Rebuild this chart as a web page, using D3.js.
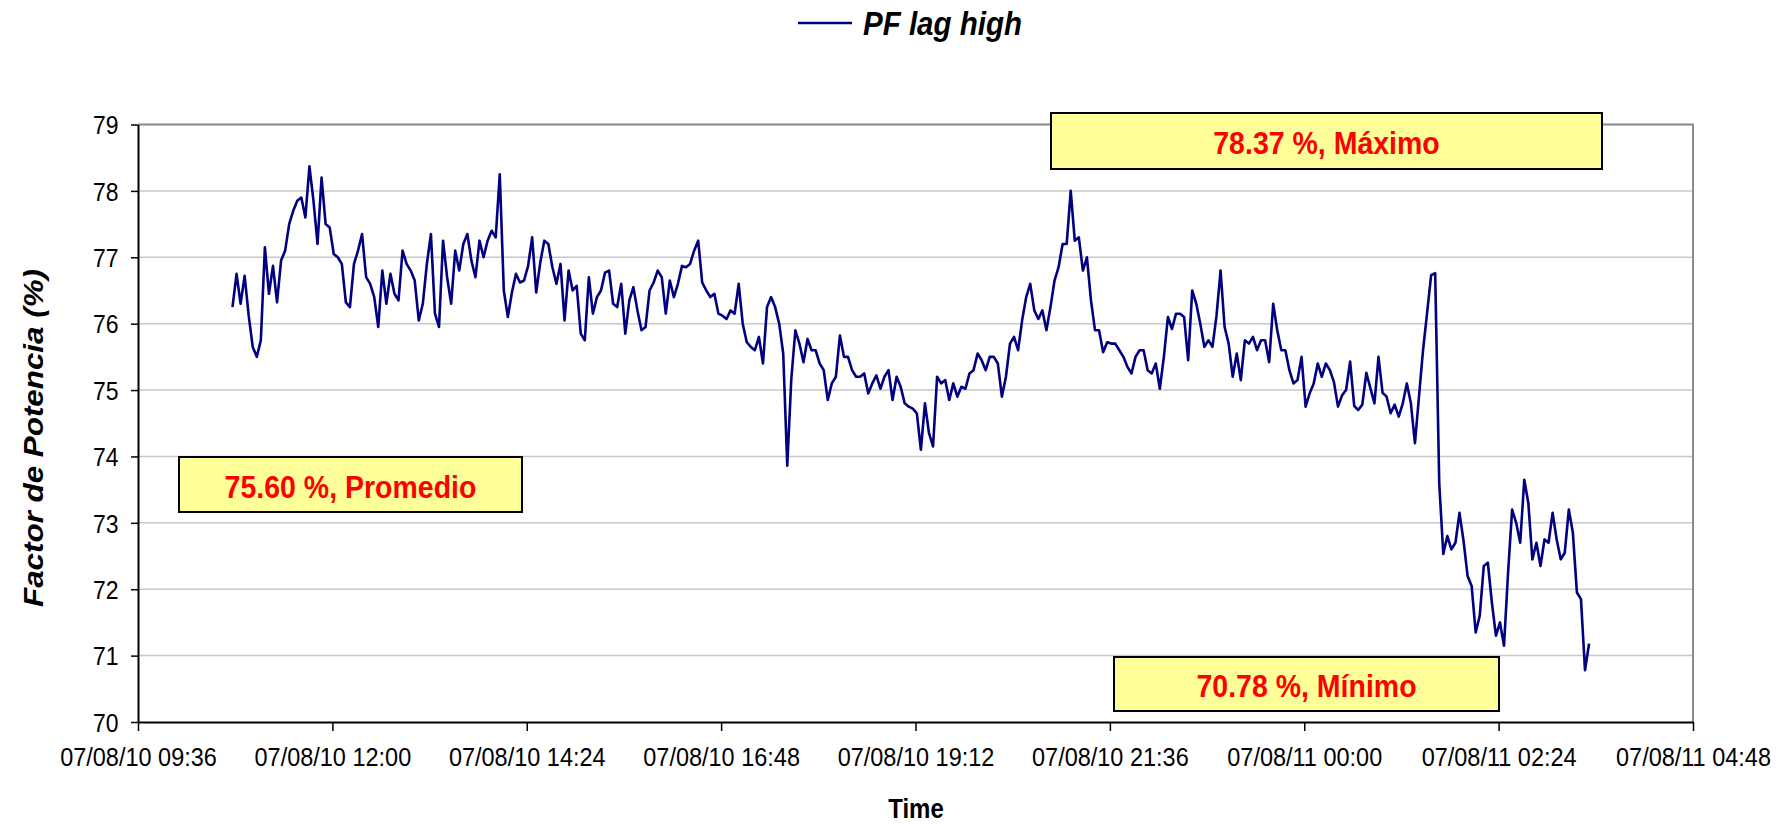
<!DOCTYPE html>
<html>
<head>
<meta charset="utf-8">
<script src="https://cdn.jsdelivr.net/npm/d3@7"></script>
<style>
  body { margin: 0; background: #fff; }
  text { font-family: "Liberation Sans", Arial, sans-serif; }
</style>
</head>
<body>
<div id="chart"></div>
<script>
// data (one sample every 3 minutes)
var seriesName = "PF lag high";
var startTime = "2007-08-10 10:46";
var stepMinutes = 3;
var pfLagHigh = [
  76.25, 76.75, 76.3, 76.72, 76.12, 75.65, 75.5, 75.75, 77.15, 76.45,
  76.87, 76.32, 76.95, 77.1, 77.5, 77.7, 77.85, 77.9, 77.6, 78.37,
  77.85, 77.2, 78.2, 77.5, 77.45, 77.05, 77.0, 76.9, 76.32, 76.25,
  76.9, 77.1, 77.35, 76.7, 76.6, 76.4, 75.95, 76.8, 76.3, 76.75,
  76.45, 76.35, 77.1, 76.9, 76.8, 76.65, 76.05, 76.3, 76.9, 77.35,
  76.15, 75.95, 77.25, 76.7, 76.3, 77.1, 76.8, 77.2, 77.35, 76.95,
  76.7, 77.25, 77.0, 77.25, 77.4, 77.3, 78.25, 76.5,
  76.1, 76.47, 76.75, 76.62, 76.65, 76.87, 77.3, 76.47, 76.92, 77.25,
  77.2, 76.85, 76.6, 76.9, 76.05, 76.8, 76.5, 76.57, 75.85, 75.75,
  76.7, 76.15, 76.4, 76.5, 76.77, 76.8, 76.3, 76.25, 76.6, 75.85,
  76.35, 76.55, 76.2, 75.9, 75.95, 76.5, 76.62, 76.8, 76.7, 76.15,
  76.65, 76.4, 76.6, 76.87, 76.85, 76.9, 77.1, 77.25, 76.62, 76.5,
  76.4, 76.45, 76.15, 76.12, 76.07, 76.2, 76.15, 76.6, 76.0, 75.72,
  75.65, 75.6, 75.8, 75.4, 76.25, 76.4, 76.25, 76.0, 75.55,
  73.86, 75.17, 75.9, 75.7, 75.42, 75.77, 75.6, 75.6, 75.4, 75.3,
  74.85, 75.1, 75.2, 75.82, 75.5, 75.5, 75.3, 75.2, 75.2, 75.25,
  74.95, 75.1, 75.22, 75.02, 75.2, 75.3, 74.85, 75.2, 75.05, 74.8,
  74.75, 74.72, 74.65, 74.1, 74.8, 74.35, 74.15, 75.2, 75.1, 75.15,
  74.85, 75.1, 74.9, 75.05, 75.02, 75.25, 75.3, 75.55, 75.45, 75.3,
  75.5, 75.5, 75.4, 74.9, 75.2, 75.7, 75.8, 75.6, 76.05, 76.4,
  76.6, 76.2, 76.07, 76.2, 75.9, 76.25, 76.65, 76.85, 77.2,
  77.2, 78.0, 77.25, 77.3, 76.8, 77.0, 76.35, 75.9, 75.9, 75.57,
  75.72, 75.7, 75.7, 75.6, 75.5, 75.35, 75.25, 75.5, 75.6, 75.6,
  75.3, 75.25, 75.4, 75.02, 75.5, 76.1, 75.92, 76.15, 76.15, 76.1,
  75.45, 76.5, 76.3, 76.0, 75.65, 75.75, 75.65, 76.12, 76.8, 75.95,
  75.7, 75.2, 75.55, 75.15, 75.75, 75.7, 75.8, 75.6, 75.75, 75.75,
  75.42, 76.3, 75.9, 75.6, 75.6, 75.3, 75.1, 75.15, 75.5, 74.75,
  74.95, 75.1, 75.4, 75.2, 75.4, 75.3, 75.12, 74.75, 74.92,
  75.0, 75.43, 74.76, 74.7, 74.78, 75.26, 75.03, 74.8, 75.5, 74.96,
  74.9, 74.65, 74.78, 74.6, 74.8, 75.1, 74.8, 74.2, 74.9, 75.6,
  76.16, 76.73, 76.76, 73.6, 72.53, 72.8, 72.6, 72.7, 73.15, 72.73,
  72.2, 72.05, 71.35, 71.6, 72.35, 72.4, 71.8, 71.3, 71.5, 71.15,
  72.25, 73.2, 73.0, 72.7, 73.65, 73.3, 72.45, 72.7, 72.35, 72.75,
  72.7, 73.15, 72.75, 72.45, 72.55, 73.2, 72.85, 71.95, 71.85, 70.78,
  71.18
];

// axis setup
var timeDomain = ["2007-08-10 09:36", "2007-08-11 04:48"];
var timeTicks = ["2007-08-10 09:36", "2007-08-10 12:00", "2007-08-10 14:24",
  "2007-08-10 16:48", "2007-08-10 19:12", "2007-08-10 21:36",
  "2007-08-11 00:00", "2007-08-11 02:24", "2007-08-11 04:48"];
var valueTicks = [70, 71, 72, 73, 74, 75, 76, 77, 78, 79];

// annotation boxes
var noteLabels = ["75.60 %, Promedio", "78.37 %, Máximo", "70.78 %, Mínimo"];

var svgWidth = 1788;
var svgHeight = 824;
var margin = { top: 124.5, right: 95, bottom: 102, left: 138 };
var width = svgWidth - margin.left - margin.right;
var height = svgHeight - margin.top - margin.bottom;
var stretch = 1.12; // text in the original is a little taller than normal

var parseTime = d3.timeParse("%Y-%m-%d %H:%M");
var fmt = d3.timeFormat("%y/%m/%d %H:%M");
var t0 = parseTime(startTime);
var data = pfLagHigh.map(function(v, i) {
  return { t: d3.timeMinute.offset(t0, i * stepMinutes), v: v };
});

var svg = d3.select("#chart").append("svg")
  .attr("width", svgWidth)
  .attr("height", svgHeight);

var chartGroup = svg.append("g")
  .attr("transform", `translate(${margin.left},${margin.top})`);

var xScale = d3.scaleTime()
  .domain(timeDomain.map(parseTime))
  .range([0, width]);
var yScale = d3.scaleLinear()
  .domain([70, 79])
  .range([height, 0]);

// gridlines
chartGroup.selectAll(".grid")
  .data(valueTicks.slice(1))
  .enter()
  .append("line")
  .attr("x1", 0).attr("x2", width)
  .attr("y1", d => yScale(d)).attr("y2", d => yScale(d))
  .attr("stroke", "#c8c8c8")
  .attr("stroke-width", 1.5);

// plot area border (top / right)
chartGroup.append("path")
  .attr("d", `M0,${yScale(79)}H${width}V${height}`)
  .attr("fill", "none")
  .attr("stroke", "#8c8c8c")
  .attr("stroke-width", 2);

// line
var line = d3.line()
  .x(d => xScale(d.t))
  .y(d => yScale(d.v));

chartGroup.append("path")
  .datum(data)
  .attr("d", line)
  .attr("fill", "none")
  .attr("stroke", "#000080")
  .attr("stroke-width", 2.6)
  .attr("stroke-linejoin", "round");

// axes
var yAxis = chartGroup.append("g")
  .call(d3.axisLeft(yScale).tickValues(valueTicks).tickSize(7).tickSizeOuter(0));
var xAxis = chartGroup.append("g")
  .attr("transform", `translate(0,${height})`)
  .call(d3.axisBottom(xScale).tickValues(timeTicks.map(parseTime)).tickFormat(fmt).tickSize(9).tickSizeOuter(0));

[yAxis, xAxis].forEach(function(ax) {
  ax.select(".domain").attr("stroke", "#000").attr("stroke-width", 2);
  ax.selectAll(".tick line").attr("stroke", "#000").attr("stroke-width", 1.5);
});

yAxis.selectAll(".tick text")
  .attr("x", -19.5)
  .attr("dy", null)
  .attr("y", 8.2)
  .attr("font-size", "23px")
  .attr("fill", "#000")
  .attr("transform", `scale(1,${stretch})`);

xAxis.selectAll(".tick text")
  .attr("dy", null)
  .attr("y", 44.5 / stretch)
  .attr("font-size", "23.5px")
  .attr("fill", "#000")
  .attr("transform", `scale(1,${stretch})`);

// helper for stretched text
function addText(x, y, str, size, opts) {
  opts = opts || {};
  var tf = `translate(${x},${y}) scale(1,${stretch})` + (opts.rotate ? ` rotate(${opts.rotate})` : "");
  return svg.append("text")
    .attr("transform", tf)
    .attr("text-anchor", opts.anchor || "middle")
    .attr("font-size", size + "px")
    .attr("font-weight", opts.weight || "normal")
    .attr("font-style", opts.style || "normal")
    .attr("fill", opts.fill || "#000")
    .text(str);
}

// axis titles
addText(916, 818, "Time", 24, { weight: "bold" });
addText(43, 438, "Factor de Potencia (%)", 28, { weight: "bold", style: "italic", rotate: -90 });

// legend
svg.append("line")
  .attr("x1", 798).attr("x2", 852)
  .attr("y1", 23).attr("y2", 23)
  .attr("stroke", "#000080")
  .attr("stroke-width", 2.4);
addText(863, 35, seriesName, 29.5, { weight: "bold", style: "italic", anchor: "start" });

// annotation boxes
var boxes = [
  { x: 179, y: 457, w: 343, h: 55 },
  { x: 1051, y: 113, w: 551, h: 56 },
  { x: 1114, y: 657, w: 385, h: 54 }
];
boxes.forEach(function(b, i) {
  svg.append("rect")
    .attr("x", b.x).attr("y", b.y)
    .attr("width", b.w).attr("height", b.h)
    .attr("fill", "#ffff99")
    .attr("stroke", "#000")
    .attr("stroke-width", 2);
  addText(b.x + b.w / 2, b.y + b.h / 2 + 13, noteLabels[i], 28.5, { weight: "bold", fill: "#ff0000" });
});
</script>
</body>
</html>
